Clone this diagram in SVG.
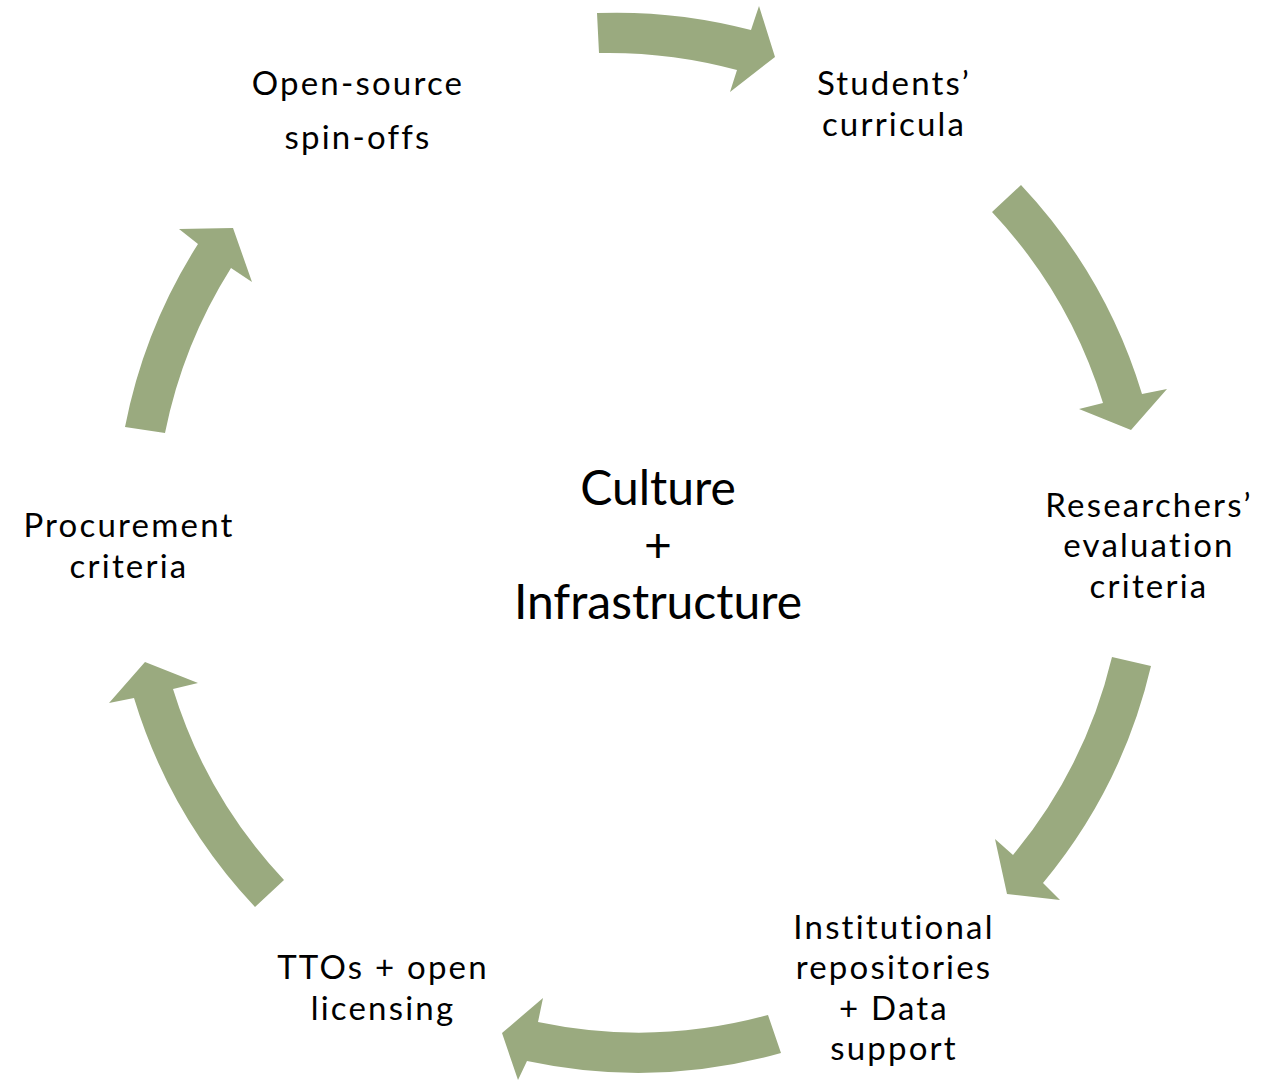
<svg xmlns="http://www.w3.org/2000/svg" width="1278" height="1082" viewBox="0 0 1278 1082">
<style>
.arrow{fill:#9AAA7F;stroke:none}
.lbl{font-family:"Lato","Noto Sans","Liberation Sans",sans-serif;font-size:33px;letter-spacing:2.2px;fill:#000;text-anchor:middle}
.ctr{font-family:"Lato","Noto Sans","Liberation Sans",sans-serif;font-size:48px;fill:#000;text-anchor:middle}
</style>
<rect width="1278" height="1082" fill="#fff"/>
<g id="connectors">
<path class="arrow" d="M597,13 A529,529 0 0 1 751,30 L759,6 L775,57 L730,92 L737,70 A489,489 0 0 0 599,53 Z"/>
<path class="arrow" d="M1021,185 A529,529 0 0 1 1142,394 L1167,389 L1131,430 L1079,409 L1103,403 A489,489 0 0 0 992,212 Z"/>
<path class="arrow" d="M1151,666 A529,529 0 0 1 1043,883 L1060,900 L1007,894 L995,839 L1013,855 A489,489 0 0 0 1112,657 Z"/>
<path class="arrow" d="M781,1053 A529,529 0 0 1 527,1061 L518,1080 L502,1033 L543,998 L538,1022 A489,489 0 0 0 768,1015 Z"/>
<path class="arrow" d="M255,907 A529,529 0 0 1 134,698 L109,703 L145,662 L198,683 L173,689 A489,489 0 0 0 284,880 Z"/>
<path class="arrow" d="M125,427 A529,529 0 0 1 198,244 L179,229 L233,228 L252,282 L231,268 A489,489 0 0 0 165,433 Z"/>
</g>
<g id="center">
<text class="ctr" x="658" y="505">Culture</text>
<text class="ctr" x="658" y="562">+</text>
<text class="ctr" x="658" y="619">Infrastructure</text>
</g>
<g id="students">
<text class="lbl" x="894" y="95">Students’</text>
<text class="lbl" x="894" y="136">curricula</text>
</g>
<g id="researchers">
<text class="lbl" x="1149" y="517">Researchers’</text>
<text class="lbl" x="1149" y="557">evaluation</text>
<text class="lbl" x="1149" y="598">criteria</text>
</g>
<g id="repositories">
<text class="lbl" x="894" y="939">Institutional</text>
<text class="lbl" x="894" y="979">repositories</text>
<text class="lbl" x="894" y="1020">+ Data</text>
<text class="lbl" x="894" y="1060">support</text>
</g>
<g id="ttos">
<text class="lbl" x="383" y="979">TTOs + open</text>
<text class="lbl" x="383" y="1020">licensing</text>
</g>
<g id="procurement">
<text class="lbl" x="129" y="537">Procurement</text>
<text class="lbl" x="129" y="578">criteria</text>
</g>
<g id="spinoffs">
<text class="lbl" x="358" y="95">Open-source</text>
<text class="lbl" x="358" y="149">spin-offs</text>
</g>
</svg>
